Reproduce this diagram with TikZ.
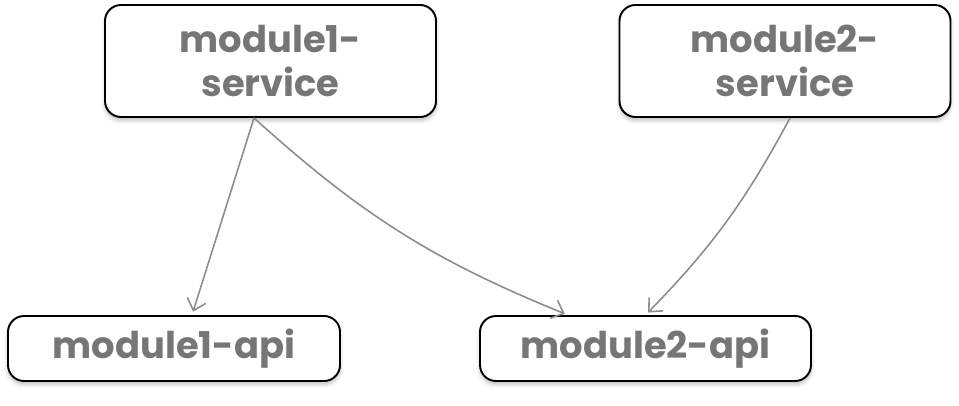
\documentclass[tikz,border=0pt]{standalone}
\usepackage{fontspec}
\setmainfont{Poppins}
\usepackage{tikz}
\usetikzlibrary{arrows.meta,shadows.blur}
\definecolor{labelgray}{RGB}{118,118,118}
\definecolor{linkgray}{RGB}{140,140,140}
\begin{document}
\begin{tikzpicture}[
    modbox/.style={draw=black, line width=1.1pt, rounded corners=0.32cm, fill=white,
        blur shadow={shadow xshift=0pt, shadow yshift=-2pt, shadow blur steps=4, shadow opacity=25},
        align=center, text=labelgray, font=\fontsize{21}{25}\selectfont\bfseries, inner sep=0pt},
    dep/.style={draw=linkgray, line width=0.9pt, -{Straight Barb[length=6pt,width=11pt]}, shorten >=2pt}
  ]
    \useasboundingbox (0,0) rectangle (19.18,-8.12);
    % service modules
    \node[modbox, minimum width=6.62cm, minimum height=2.24cm] (m1service) at (5.41,-1.22) {module1-\\service};
    \node[modbox, minimum width=6.62cm, minimum height=2.24cm] (m2service) at (15.70,-1.22) {module2-\\service};
    % api modules
    \node[modbox, minimum width=6.64cm, minimum height=1.30cm] (m1api) at (3.48,-6.97) {module1-api};
    \node[modbox, minimum width=6.62cm, minimum height=1.30cm] (m2api) at (12.91,-6.97) {module2-api};
    % dependencies
    \draw[dep] ([xshift=-0.33cm]m1service.south) -- ([xshift=0.36cm]m1api.north);
    \draw[dep] ([xshift=-0.33cm]m1service.south) to[bend right=10] ([xshift=-1.55cm]m2api.north);
    \draw[dep] ([xshift=0.10cm]m2service.south) to[bend left=8] (m2api.north);
\end{tikzpicture}
\end{document}
